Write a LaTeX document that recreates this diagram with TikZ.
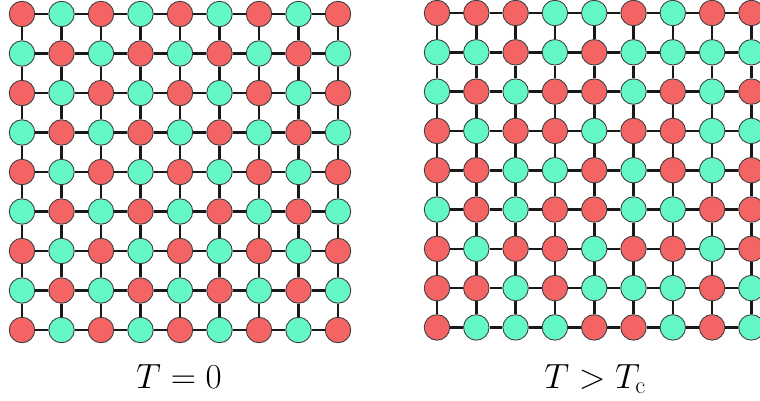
\RequirePackage{fix-cm}
\documentclass[tikz,border=0pt]{standalone}
\usetikzlibrary{positioning}
\definecolor{spinred}{RGB}{244,100,100}
\definecolor{spingreen}{RGB}{100,248,200}

\begin{document}
\begin{tikzpicture}[x=1pt,y=-1pt,
 site/.style={circle,draw=black!75,line width=0.9pt,minimum size=25.5pt,inner sep=0pt},
 siteR/.style={site,fill=spinred},
 siteG/.style={site,fill=spingreen},
 bond/.style={line width=2.6pt,draw=black!90},
 temp/.style={anchor=base,font=\fontsize{35}{40}\selectfont}]
\useasboundingbox (0,0) rectangle (760,400);
% ordered lattice, T=0
\foreach \i in {0,...,8}
 \foreach \j in {0,...,8}{
  \pgfmathtruncatemacro{\parity}{mod(\i+\j,2)}
  \ifnum\parity=0 \def\s{R}\else\def\s{G}\fi
  \node[site\s] (L-\i-\j) at (22+39.5*\j,14+39.5*\i) {};
 }
% disordered lattice, T>Tc
\foreach \row [count=\i from 0] in {
 {R,R,R,G,G,R,G,R,R},
 {G,G,R,G,R,G,G,G,G},
 {G,R,G,R,R,G,R,G,R},
 {R,G,R,R,G,R,R,G,G},
 {R,R,G,G,R,G,R,G,R},
 {G,R,G,R,R,G,G,R,R},
 {R,G,R,R,G,R,R,G,R},
 {R,R,G,R,G,G,G,R,G},
 {R,G,G,G,R,R,G,R,G}}
 \foreach \s [count=\j from 0] in \row
  \node[site\s] (R-\i-\j) at (437+39.3*\j,13+39.3*\i) {};
% bonds
\foreach \lat in {L,R}
 \foreach \i in {0,...,8}
  \foreach \j in {0,...,7}{
   \pgfmathtruncatemacro{\k}{\j+1}
   \path[bond] (\lat-\i-\j) -- (\lat-\i-\k);
   \path[bond] (\lat-\j-\i) -- (\lat-\k-\i);
  }
\node[temp] (t0) at (179,388) {$T=0$};
\node[temp] (tc) at (595,388) {$T>T_{\mathrm{c}}$};
\end{tikzpicture}
\end{document}
